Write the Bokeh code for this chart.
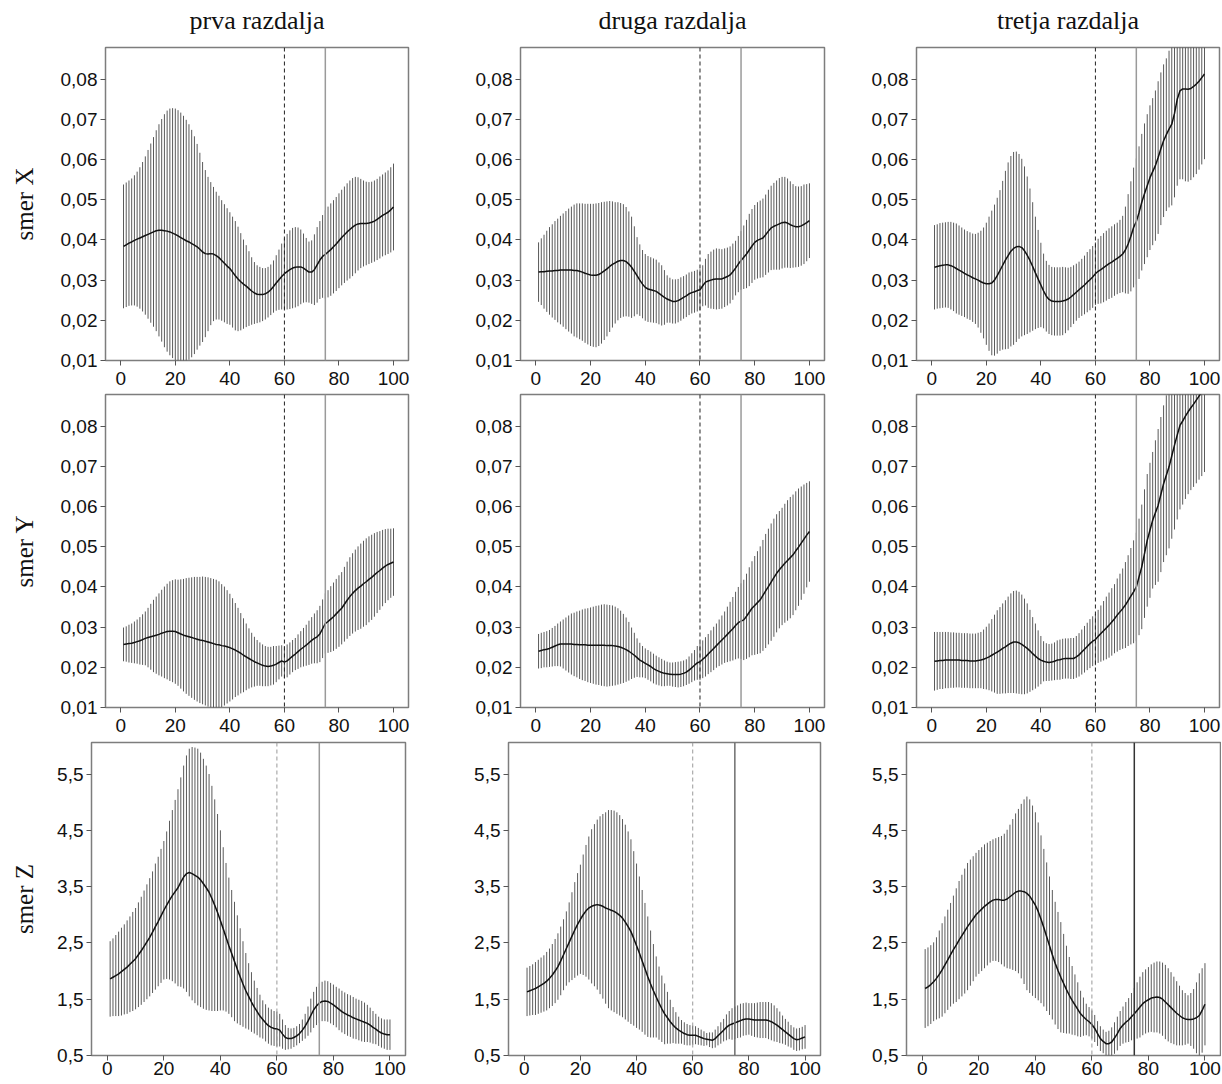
import numpy as np
from bokeh.plotting import figure
from bokeh.models import (Range1d, FixedTicker, CustomJSTickFormatter, Span,
                          ColumnDataSource, LinearAxis)
from bokeh.layouts import row, column
from bokeh.embed import file_html
from bokeh.resources import INLINE

# ---------------------------------------------------------------- data
X = list(range(1, 101))
COL_TITLES = ["prva razdalja", "druga razdalja", "tretja razdalja"]
ROW_TITLES = ["smer X", "smer Y", "smer Z"]
X_TICKS = [0, 20, 40, 60, 80, 100]
Y_TICKS_XY = [0.01, 0.02, 0.03, 0.04, 0.05, 0.06, 0.07, 0.08]
Y_TICKS_Z = [0.5, 1.5, 2.5, 3.5, 4.5, 5.5]
MARK_DASHED = 60
MARK_SOLID = 75

# rows "smer X" and "smer Y": values given in units of 0.001
X1_MEAN = [38.4, 38.8, 39.2, 39.5, 39.9, 40.2, 40.5, 40.8, 41.1, 41.4,
           41.7, 42.0, 42.3, 42.4, 42.4, 42.3, 42.2, 42.0, 41.7, 41.4,
           41.0, 40.6, 40.2, 39.8, 39.5, 39.1, 38.7, 38.3, 37.7, 37.0,
           36.6, 36.5, 36.6, 36.5, 36.1, 35.6, 34.9, 34.2, 33.5, 32.9,
           32.0, 31.1, 30.3, 29.6, 29.0, 28.5, 27.9, 27.3, 26.8, 26.5,
           26.4, 26.4, 26.6, 27.0, 27.6, 28.4, 29.3, 30.1, 30.9, 31.6,
           32.1, 32.6, 33.0, 33.2, 33.3, 33.3, 33.0, 32.5, 32.0, 32.0,
           32.6, 33.8, 35.0, 35.9, 36.4, 37.0, 37.6, 38.3, 39.0, 39.8,
           40.6, 41.3, 42.0, 42.6, 43.2, 43.7, 44.0, 44.1, 44.1, 44.1,
           44.2, 44.4, 44.7, 45.1, 45.6, 46.1, 46.5, 46.9, 47.5, 48.2]
X1_SD = [15.4, 15.5, 15.6, 15.8, 16.2, 16.8, 17.6, 18.6, 19.7, 21.0,
         22.3, 23.6, 25.0, 26.4, 27.7, 29.0, 30.0, 30.7, 31.1, 31.3,
         31.3, 31.1, 30.7, 30.1, 29.3, 28.3, 27.1, 25.6, 24.0, 22.4,
         20.8, 19.2, 17.8, 16.7, 15.9, 15.4, 15.0, 14.7, 14.4, 14.0,
         13.8, 13.6, 13.0, 12.1, 11.1, 10.2, 9.3, 8.4, 7.7, 7.2,
         6.9, 6.6, 6.4, 6.3, 6.3, 6.5, 6.9, 7.5, 8.2, 8.8,
         9.4, 9.8, 10.0, 10.0, 9.8, 9.3, 8.6, 8.0, 7.6, 7.9,
         8.8, 9.4, 9.7, 10.3, 11.0, 11.3, 11.5, 11.6, 11.7, 11.8,
         11.9, 12.0, 12.1, 12.2, 12.2, 12.0, 11.6, 11.1, 10.7, 10.4,
         10.2, 10.1, 10.1, 10.1, 10.2, 10.2, 10.3, 10.4, 10.6, 10.8]

X2_MEAN = [32.0, 32.1, 32.1, 32.2, 32.3, 32.3, 32.4, 32.4, 32.5, 32.5,
           32.5, 32.5, 32.5, 32.4, 32.4, 32.2, 32.0, 31.7, 31.5, 31.3,
           31.2, 31.2, 31.4, 31.8, 32.3, 32.8, 33.4, 33.9, 34.3, 34.7,
           34.9, 34.9, 34.6, 34.0, 33.2, 32.2, 31.1, 30.0, 29.0, 28.2,
           27.8, 27.6, 27.4, 27.2, 26.7, 26.2, 25.7, 25.3, 25.0, 24.7,
           24.7, 24.9, 25.3, 25.7, 26.1, 26.6, 26.9, 27.1, 27.4, 27.6,
           28.6, 29.5, 29.8, 30.0, 30.2, 30.3, 30.3, 30.3, 30.6, 30.9,
           31.3, 32.1, 33.0, 34.0, 34.9, 35.7, 36.5, 37.5, 38.5, 39.4,
           39.9, 40.2, 40.5, 41.3, 42.2, 43.0, 43.4, 43.7, 44.0, 44.3,
           44.4, 44.2, 43.8, 43.5, 43.3, 43.3, 43.5, 43.9, 44.3, 44.8]
X2_SD = [7.4, 8.3, 9.2, 10.1, 10.9, 11.6, 12.3, 12.9, 13.5, 14.1,
         14.7, 15.3, 15.8, 16.4, 16.7, 16.9, 17.1, 17.3, 17.5, 17.7,
         17.8, 17.9, 17.8, 17.6, 17.2, 16.8, 16.3, 15.7, 15.1, 14.7,
         14.3, 14.0, 13.6, 13.1, 12.6, 11.2, 9.6, 8.9, 8.5, 8.3,
         8.2, 8.1, 8.0, 7.9, 7.7, 7.5, 6.8, 5.9, 5.6, 5.5,
         5.5, 5.4, 5.4, 5.3, 5.3, 5.3, 5.2, 5.2, 5.2, 5.1,
         5.1, 5.8, 6.7, 7.1, 7.4, 7.6, 7.5, 7.4, 7.3, 7.2,
         7.1, 7.0, 6.8, 7.0, 7.3, 7.9, 8.5, 9.0, 9.2, 9.3,
         9.5, 9.6, 9.8, 10.0, 10.3, 10.5, 10.8, 11.1, 11.4, 11.4,
         11.3, 11.1, 10.8, 10.4, 10.1, 10.0, 9.9, 9.9, 9.6, 9.3]

X3_MEAN = [33.2, 33.4, 33.6, 33.7, 33.8, 33.8, 33.6, 33.3, 32.9, 32.5,
           32.1, 31.7, 31.3, 31.0, 30.6, 30.3, 30.0, 29.6, 29.3, 29.1,
           29.1, 29.3, 30.0, 31.1, 32.4, 33.7, 35.0, 36.1, 37.2, 37.9,
           38.3, 38.4, 38.1, 37.3, 36.2, 34.9, 33.4, 31.8, 30.3, 28.8,
           27.3, 26.0, 25.2, 24.8, 24.7, 24.7, 24.7, 24.8, 25.0, 25.3,
           25.8, 26.4, 27.0, 27.6, 28.2, 28.8, 29.5, 30.1, 30.8, 31.6,
           32.2, 32.6, 33.1, 33.6, 34.1, 34.5, 35.0, 35.4, 35.9, 36.5,
           37.5, 39.0, 40.9, 43.1, 44.6, 46.8, 49.4, 51.5, 53.5, 55.5,
           57.0, 58.5, 60.5, 62.7, 64.7, 66.2, 67.6, 68.8, 71.5, 75.0,
           77.1, 77.6, 77.6, 77.5, 77.7, 78.2, 78.8, 79.5, 80.4, 81.3]
X3_SD = [10.5, 10.5, 10.6, 10.6, 10.6, 10.7, 10.9, 11.0, 11.2, 11.1,
         11.0, 10.9, 10.9, 10.9, 11.0, 11.2, 11.8, 12.7, 13.8, 15.2,
         16.7, 18.0, 18.8, 19.4, 20.0, 21.0, 22.2, 23.2, 23.7, 24.0,
         23.7, 23.0, 22.1, 21.0, 19.6, 17.9, 16.0, 14.0, 12.2, 10.5,
         9.3, 8.8, 8.6, 8.5, 8.5, 8.5, 8.5, 8.5, 8.2, 7.8,
         7.5, 7.3, 7.1, 7.0, 7.1, 7.3, 7.5, 7.6, 7.7, 7.8,
         8.1, 8.4, 8.6, 8.7, 8.8, 8.9, 8.9, 8.9, 9.1, 9.5,
         10.8, 12.4, 13.7, 14.9, 15.7, 16.5, 17.0, 17.5, 17.8, 18.0,
         18.3, 18.7, 19.0, 19.0, 19.0, 19.0, 19.5, 20.2, 20.9, 21.5,
         22.0, 22.5, 23.0, 23.0, 22.8, 22.6, 22.4, 22.0, 21.6, 21.2]

Y1_MEAN = [25.7, 25.8, 25.9, 26.0, 26.2, 26.4, 26.6, 26.9, 27.2, 27.4,
           27.6, 27.8, 28.0, 28.2, 28.5, 28.7, 28.9, 29.0, 29.0, 28.9,
           28.6, 28.3, 28.0, 27.8, 27.6, 27.4, 27.2, 27.0, 26.8, 26.7,
           26.5, 26.3, 26.1, 25.9, 25.7, 25.6, 25.4, 25.3, 25.1, 24.9,
           24.6, 24.3, 23.9, 23.5, 23.0, 22.6, 22.2, 21.8, 21.4, 21.1,
           20.8, 20.5, 20.3, 20.2, 20.3, 20.5, 20.8, 21.2, 21.6, 21.3,
           21.6, 22.2, 22.8, 23.3, 23.9, 24.5, 25.0, 25.5, 26.1, 26.7,
           27.2, 27.6, 28.3, 29.6, 30.9, 31.4, 32.0, 32.6, 33.3, 34.0,
           34.7, 35.7, 36.7, 37.6, 38.4, 39.1, 39.7, 40.2, 40.8, 41.3,
           41.9, 42.4, 43.0, 43.6, 44.1, 44.7, 45.2, 45.6, 45.9, 46.2]
Y1_SD = [4.2, 4.4, 4.7, 4.9, 5.2, 5.5, 5.9, 6.3, 6.7, 7.4,
         8.2, 9.0, 9.6, 10.2, 10.8, 11.4, 11.9, 12.4, 12.7, 13.0,
         13.2, 13.6, 14.0, 14.4, 14.7, 15.0, 15.3, 15.5, 15.7, 15.9,
         16.0, 16.1, 16.1, 16.1, 16.1, 15.8, 15.3, 14.8, 14.1, 13.4,
         12.6, 11.7, 10.9, 10.0, 9.2, 8.3, 7.5, 6.8, 6.2, 5.7,
         5.4, 5.2, 5.0, 4.9, 4.8, 4.8, 4.5, 4.2, 3.9, 4.0,
         4.1, 4.0, 4.0, 4.0, 4.3, 4.5, 4.8, 5.1, 5.5, 5.8,
         6.2, 6.6, 7.0, 7.3, 7.5, 7.8, 8.2, 8.5, 8.7, 8.9,
         9.0, 9.3, 9.6, 9.8, 10.0, 10.2, 10.4, 10.6, 10.7, 10.8,
         10.7, 10.6, 10.4, 10.1, 9.8, 9.5, 9.2, 8.9, 8.6, 8.4]

Y2_MEAN = [24.0, 24.2, 24.4, 24.5, 24.7, 25.0, 25.3, 25.6, 25.8, 25.8,
           25.8, 25.8, 25.8, 25.7, 25.7, 25.6, 25.6, 25.6, 25.5, 25.5,
           25.5, 25.5, 25.5, 25.5, 25.5, 25.4, 25.4, 25.4, 25.3, 25.2,
           25.0, 24.7, 24.4, 24.0, 23.5, 23.0, 22.4, 21.8, 21.4, 21.0,
           20.6, 20.2, 19.7, 19.3, 19.0, 18.7, 18.5, 18.4, 18.3, 18.2,
           18.2, 18.2, 18.3, 18.5, 18.8, 19.3, 19.9, 20.5, 21.1, 21.4,
           22.0, 22.6, 23.3, 24.0, 24.7, 25.4, 26.1, 26.8, 27.5, 28.2,
           28.9, 29.6, 30.4, 31.1, 31.5, 31.8, 32.7, 33.7, 34.7, 35.4,
           36.1, 36.8, 37.9, 39.0, 40.1, 41.2, 42.3, 43.4, 44.3, 45.1,
           45.9, 46.6, 47.3, 48.0, 49.0, 49.9, 50.9, 51.9, 52.9, 53.8]
Y2_SD = [4.3, 4.4, 4.4, 4.5, 4.6, 4.8, 5.0, 5.3, 5.6, 6.1,
         6.6, 7.1, 7.6, 7.9, 8.2, 8.5, 8.8, 9.0, 9.2, 9.4,
         9.6, 9.8, 9.9, 10.1, 10.2, 10.2, 10.1, 10.0, 9.8, 9.5,
         9.1, 8.6, 8.0, 7.3, 6.4, 5.6, 4.8, 4.3, 3.9, 3.7,
         3.7, 3.7, 3.7, 3.6, 3.5, 3.4, 3.2, 3.0, 2.9, 3.0,
         3.1, 3.2, 3.2, 3.2, 3.2, 3.4, 3.6, 3.8, 4.2, 4.6,
         4.7, 4.9, 5.0, 5.2, 5.4, 5.5, 5.8, 6.1, 6.4, 6.9,
         7.4, 7.9, 8.4, 8.9, 9.4, 10.0, 10.6, 11.2, 11.7, 12.3,
         12.8, 13.3, 13.8, 14.2, 14.4, 14.6, 14.7, 14.7, 14.6, 14.6,
         14.8, 15.0, 15.1, 15.0, 14.8, 14.6, 14.1, 13.6, 13.0, 12.5]

Y3_MEAN = [21.5, 21.6, 21.7, 21.7, 21.8, 21.8, 21.8, 21.8, 21.8, 21.8,
           21.7, 21.7, 21.7, 21.6, 21.6, 21.6, 21.7, 21.8, 22.0, 22.3,
           22.6, 23.0, 23.4, 23.8, 24.2, 24.7, 25.1, 25.6, 26.0, 26.3,
           26.3, 26.1, 25.7, 25.2, 24.7, 24.1, 23.4, 22.8, 22.2, 21.8,
           21.5, 21.3, 21.2, 21.3, 21.5, 21.8, 21.9, 22.1, 22.2, 22.2,
           22.2, 22.2, 22.6, 23.1, 23.8, 24.5, 25.2, 25.9, 26.5, 26.9,
           27.7, 28.4, 29.1, 29.8, 30.5, 31.3, 32.1, 33.0, 33.8, 34.6,
           35.5, 36.6, 37.7, 38.8, 40.0, 42.5, 45.0, 48.3, 51.6, 54.1,
           56.6, 58.5, 60.3, 63.0, 65.7, 67.8, 69.9, 72.6, 75.3, 77.8,
           80.2, 81.3, 82.5, 83.6, 84.6, 85.5, 86.5, 87.5, 88.5, 89.5]
Y3_SD = [7.3, 7.2, 7.1, 7.1, 7.0, 7.0, 6.9, 6.9, 6.8, 6.8,
         6.8, 6.8, 6.8, 6.8, 6.8, 6.8, 6.9, 7.0, 7.4, 7.8,
         8.3, 9.0, 9.7, 10.4, 10.8, 11.2, 11.6, 12.0, 12.4, 12.7,
         12.8, 12.7, 12.4, 11.9, 11.2, 10.2, 9.1, 8.1, 7.0, 6.0,
         5.0, 4.7, 4.6, 4.6, 4.7, 4.9, 5.0, 5.0, 5.0, 5.0,
         5.1, 5.1, 5.2, 5.4, 5.6, 5.8, 5.9, 6.1, 6.2, 6.4,
         6.6, 7.0, 7.4, 7.8, 8.1, 8.4, 8.6, 9.1, 9.5, 10.0,
         10.7, 11.3, 12.0, 12.8, 13.5, 14.5, 15.5, 16.0, 16.5, 16.8,
         17.0, 18.0, 19.0, 19.3, 19.5, 19.9, 20.3, 20.6, 21.0, 21.0,
         20.9, 20.8, 20.6, 20.5, 20.5, 20.6, 20.7, 20.8, 20.9, 20.9]

# row "smer Z": values as read
Z1_MEAN = [1.86, 1.89, 1.92, 1.95, 1.99, 2.03, 2.07, 2.12, 2.17, 2.22,
           2.29, 2.36, 2.44, 2.52, 2.60, 2.69, 2.79, 2.88, 2.98, 3.08,
           3.17, 3.26, 3.34, 3.41, 3.48, 3.58, 3.67, 3.73, 3.75, 3.73,
           3.70, 3.67, 3.62, 3.55, 3.48, 3.40, 3.29, 3.17, 3.04, 2.90,
           2.75, 2.60, 2.45, 2.31, 2.17, 2.03, 1.90, 1.77, 1.65, 1.55,
           1.45, 1.36, 1.28, 1.20, 1.14, 1.08, 1.03, 1.00, 0.98, 0.97,
           0.95, 0.88, 0.82, 0.80, 0.80, 0.82, 0.85, 0.89, 0.95, 1.02,
           1.11, 1.21, 1.31, 1.38, 1.43, 1.46, 1.47, 1.46, 1.43, 1.40,
           1.36, 1.32, 1.28, 1.25, 1.22, 1.20, 1.17, 1.15, 1.13, 1.11,
           1.09, 1.07, 1.04, 1.00, 0.97, 0.93, 0.90, 0.88, 0.87, 0.87]
Z1_SD = [0.67, 0.69, 0.72, 0.75, 0.78, 0.80, 0.83, 0.85, 0.88, 0.90,
         0.93, 0.96, 0.99, 1.02, 1.05, 1.08, 1.12, 1.15, 1.19, 1.23,
         1.31, 1.41, 1.52, 1.63, 1.75, 1.86, 1.98, 2.10, 2.20, 2.25,
         2.27, 2.28, 2.26, 2.22, 2.17, 2.10, 2.00, 1.88, 1.75, 1.60,
         1.45, 1.32, 1.21, 1.13, 1.06, 0.96, 0.86, 0.76, 0.67, 0.59,
         0.53, 0.47, 0.42, 0.38, 0.34, 0.33, 0.32, 0.32, 0.31, 0.31,
         0.29, 0.26, 0.22, 0.19, 0.18, 0.17, 0.17, 0.17, 0.19, 0.22,
         0.26, 0.30, 0.32, 0.34, 0.35, 0.35, 0.36, 0.36, 0.36, 0.36,
         0.36, 0.37, 0.37, 0.37, 0.37, 0.37, 0.37, 0.36, 0.36, 0.36,
         0.35, 0.33, 0.31, 0.29, 0.27, 0.26, 0.26, 0.26, 0.27, 0.27]

Z2_MEAN = [1.63, 1.65, 1.67, 1.69, 1.72, 1.75, 1.78, 1.82, 1.87, 1.93,
           2.00, 2.08, 2.18, 2.29, 2.40, 2.51, 2.62, 2.73, 2.83, 2.92,
           3.00, 3.07, 3.12, 3.15, 3.17, 3.18, 3.17, 3.15, 3.12, 3.10,
           3.08, 3.06, 3.03, 2.99, 2.94, 2.87, 2.79, 2.70, 2.58, 2.45,
           2.32, 2.18, 2.04, 1.90, 1.77, 1.65, 1.54, 1.43, 1.33, 1.24,
           1.17, 1.10, 1.04, 0.99, 0.95, 0.92, 0.89, 0.87, 0.86, 0.86,
           0.86, 0.84, 0.82, 0.80, 0.79, 0.78, 0.77, 0.80, 0.85, 0.90,
           0.95, 1.00, 1.04, 1.06, 1.08, 1.10, 1.12, 1.14, 1.15, 1.15,
           1.14, 1.13, 1.13, 1.13, 1.13, 1.13, 1.12, 1.10, 1.07, 1.04,
           1.00, 0.96, 0.92, 0.88, 0.84, 0.80, 0.78, 0.79, 0.81, 0.83]
Z2_SD = [0.43, 0.44, 0.45, 0.47, 0.48, 0.49, 0.50, 0.52, 0.53, 0.55,
         0.57, 0.59, 0.61, 0.63, 0.66, 0.71, 0.78, 0.85, 0.91, 0.97,
         1.07, 1.17, 1.27, 1.37, 1.44, 1.51, 1.58, 1.64, 1.70, 1.76,
         1.78, 1.79, 1.79, 1.78, 1.76, 1.73, 1.69, 1.64, 1.55, 1.46,
         1.36, 1.26, 1.17, 1.07, 0.95, 0.83, 0.72, 0.65, 0.59, 0.54,
         0.46, 0.39, 0.32, 0.28, 0.24, 0.21, 0.20, 0.19, 0.18, 0.17,
         0.16, 0.15, 0.14, 0.13, 0.11, 0.13, 0.14, 0.16, 0.17, 0.19,
         0.20, 0.23, 0.25, 0.28, 0.29, 0.29, 0.30, 0.29, 0.29, 0.28,
         0.29, 0.30, 0.31, 0.32, 0.32, 0.32, 0.33, 0.33, 0.32, 0.30,
         0.28, 0.25, 0.23, 0.22, 0.20, 0.20, 0.20, 0.20, 0.20, 0.21]

Z3_MEAN = [1.69, 1.72, 1.76, 1.81, 1.87, 1.94, 2.02, 2.11, 2.20, 2.29,
           2.38, 2.46, 2.55, 2.63, 2.71, 2.79, 2.86, 2.93, 3.00, 3.05,
           3.10, 3.15, 3.19, 3.23, 3.26, 3.27, 3.27, 3.26, 3.26, 3.28,
           3.32, 3.36, 3.40, 3.42, 3.42, 3.41, 3.38, 3.33, 3.25, 3.17,
           3.06, 2.92, 2.77, 2.61, 2.45, 2.29, 2.14, 2.01, 1.89, 1.78,
           1.67, 1.57, 1.48, 1.40, 1.32, 1.24, 1.19, 1.14, 1.10, 1.05,
           0.98, 0.89, 0.80, 0.75, 0.71, 0.71, 0.74, 0.81, 0.89, 0.98,
           1.04, 1.09, 1.13, 1.19, 1.24, 1.30, 1.36, 1.42, 1.46, 1.49,
           1.52, 1.53, 1.54, 1.53, 1.50, 1.45, 1.40, 1.35, 1.30, 1.25,
           1.21, 1.17, 1.15, 1.14, 1.14, 1.15, 1.17, 1.21, 1.30, 1.41]
Z3_SD = [0.70, 0.70, 0.70, 0.70, 0.73, 0.78, 0.83, 0.86, 0.89, 0.92,
         0.96, 1.01, 1.05, 1.08, 1.11, 1.13, 1.12, 1.11, 1.10, 1.10,
         1.10, 1.10, 1.09, 1.08, 1.08, 1.09, 1.11, 1.14, 1.18, 1.23,
         1.28, 1.34, 1.40, 1.46, 1.55, 1.64, 1.72, 1.72, 1.69, 1.65,
         1.58, 1.49, 1.40, 1.32, 1.23, 1.15, 1.09, 1.04, 0.98, 0.88,
         0.78, 0.68, 0.61, 0.54, 0.48, 0.41, 0.34, 0.28, 0.26, 0.25,
         0.24, 0.22, 0.22, 0.21, 0.21, 0.23, 0.26, 0.28, 0.30, 0.31,
         0.33, 0.36, 0.39, 0.42, 0.46, 0.50, 0.54, 0.56, 0.57, 0.58,
         0.60, 0.62, 0.63, 0.64, 0.65, 0.66, 0.65, 0.63, 0.60, 0.57,
         0.53, 0.49, 0.46, 0.43, 0.47, 0.53, 0.63, 0.75, 0.75, 0.73]

SERIES = [
    [(X1_MEAN, X1_SD, 1e-3), (X2_MEAN, X2_SD, 1e-3), (X3_MEAN, X3_SD, 1e-3)],
    [(Y1_MEAN, Y1_SD, 1e-3), (Y2_MEAN, Y2_SD, 1e-3), (Y3_MEAN, Y3_SD, 1e-3)],
    [(Z1_MEAN, Z1_SD, 1.0), (Z2_MEAN, Z2_SD, 1.0), (Z3_MEAN, Z3_SD, 1.0)],
]

# ---------------------------------------------------------------- layout / style
FIG_W = [460, 396, 365]
BORDERS_LR = [
    [(105, 52), (60, 32), (60, 2)],
    [(105, 52), (60, 32), (60, 2)],
    [(91, 55), (48, 36), (50, 1)],
]
BORDERS_TB = [(47, 33), (1, 34), (1, 28)]
X_LABEL_STANDOFF = [6, 6, 1]
ROW_LABEL_STANDOFF = [20, 20, 16]
FRAME_H = 313
SPAN75_COLORS = [["#9a9a9a"] * 3, ["#9a9a9a"] * 3, ["#9a9a9a", "#6e6e6e", "#333333"]]
SPAN60_COLORS = ["#222222", "#222222", "#9a9a9a"]

SANS = "Liberation Sans"
SERIF = "Liberation Serif"


def make_panel(r, c):
    mean_raw, sd_raw, unit = SERIES[r][c]
    mean = np.array(mean_raw) * unit
    sd = np.array(sd_raw) * unit
    bl, br = BORDERS_LR[r][c]
    bt, bb = BORDERS_TB[r]
    if r < 2:
        yr = Range1d(0.01, 0.0879)
        yticks = Y_TICKS_XY
        fmt = "return tick.toFixed(2).replace('.', ',');"
    else:
        yr = Range1d(0.5, 6.06)
        yticks = Y_TICKS_Z
        fmt = "return tick.toFixed(1).replace('.', ',');"
    p = figure(width=FIG_W[c], height=bt + FRAME_H + bb,
               x_range=Range1d(-5.6, 105.5), y_range=yr,
               output_backend="svg", toolbar_location=None,
               min_border_left=bl, min_border_right=br,
               min_border_top=bt, min_border_bottom=bb)
    p.xgrid.visible = False
    p.ygrid.visible = False
    p.outline_line_color = "#7d7d7d"
    p.outline_line_width = 1.5
    p.background_fill_color = "white"
    p.border_fill_color = "white"
    for ax in (p.xaxis[0], p.yaxis[0]):
        ax.axis_line_color = None
        ax.major_tick_out = 5
        ax.major_tick_in = 0
        ax.minor_tick_out = 0
        ax.minor_tick_in = 0
        ax.major_tick_line_color = "#555555"
        ax.major_tick_line_width = 1
        ax.major_label_text_font = SANS
        ax.major_label_text_font_size = "19px"
        ax.major_label_text_color = "#111111"
    p.yaxis.major_label_standoff = 3
    p.xaxis.major_label_standoff = X_LABEL_STANDOFF[r]
    p.xaxis.ticker = FixedTicker(ticks=X_TICKS)
    p.yaxis.ticker = FixedTicker(ticks=yticks)
    p.yaxis.formatter = CustomJSTickFormatter(code=fmt)

    if c == 0:
        p.yaxis.axis_label = ROW_TITLES[r]
        p.yaxis.axis_label_text_font = SERIF
        p.yaxis.axis_label_text_font_size = "25px"
        p.yaxis.axis_label_text_font_style = "normal"
        p.yaxis.axis_label_text_color = "#111111"
        p.yaxis.axis_label_standoff = ROW_LABEL_STANDOFF[r]

    if r == 0:
        top = LinearAxis(ticker=FixedTicker(ticks=[]), axis_line_color=None,
                         major_tick_line_color=None, minor_tick_line_color=None,
                         major_label_text_font_size="0px",
                         axis_label=COL_TITLES[c], axis_label_text_font=SERIF,
                         axis_label_text_font_size="26px",
                         axis_label_text_font_style="normal",
                         axis_label_text_color="#111111",
                         axis_label_standoff=13)
        p.add_layout(top, "above")

    src = ColumnDataSource(dict(x=X, lo=mean - sd, hi=mean + sd, m=mean))
    p.segment(x0="x", y0="lo", x1="x", y1="hi", source=src,
              line_color="#5a5a5a", line_width=1)
    p.line("x", "m", source=src, line_color="#111111", line_width=1.5)

    p.add_layout(Span(location=MARK_DASHED, dimension="height",
                      line_color=SPAN60_COLORS[r], line_width=1, line_dash="4 3"))
    p.add_layout(Span(location=MARK_SOLID, dimension="height",
                      line_color=SPAN75_COLORS[r][c], line_width=1.5))
    return p


rows = []
for r in range(3):
    rows.append(row([make_panel(r, c) for c in range(3)], spacing=0))
layout = column(rows, spacing=0)

open("out.html", "w").write(file_html(layout, INLINE))
